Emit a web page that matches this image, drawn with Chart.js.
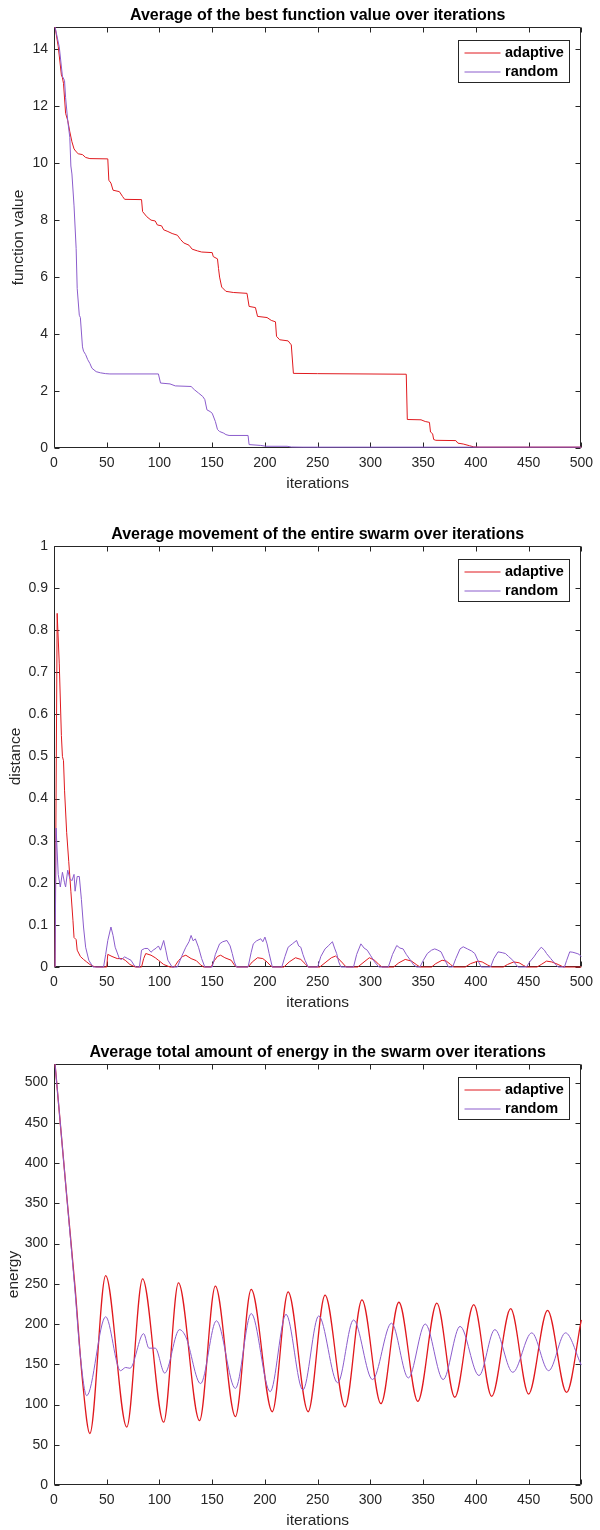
<!DOCTYPE html>
<html>
<head>
<meta charset="utf-8">
<script src="https://cdn.jsdelivr.net/npm/chart.js@4.4.1/dist/chart.umd.min.js"></script>
<style>
  html, body { margin: 0; padding: 0; background: #fff; }
  #wrap { position: relative; width: 600px; height: 1530px; }
  canvas { position: absolute; left: 0; }
</style>
</head>
<body>
<div id="wrap">
  <canvas id="fvChart" width="600" height="500" style="top:0;width:600px;height:500px"></canvas>
  <canvas id="distChart" width="600" height="520" style="top:500px;width:600px;height:520px"></canvas>
  <canvas id="energyChart" width="600" height="510" style="top:1020px;width:600px;height:510px"></canvas>
</div>
<script>
// tick labels
const iterTicks = [0, 50, 100, 150, 200, 250, 300, 350, 400, 450, 500];
const fvTicks = [0, 2, 4, 6, 8, 10, 12, 14];
const distTicks = [0, 0.1, 0.2, 0.3, 0.4, 0.5, 0.6, 0.7, 0.8, 0.9, 1];
const energyTicks = [0, 50, 100, 150, 200, 250, 300, 350, 400, 450, 500];

// best function value
const fvIterAdaptive = [1,4,7,8,9,11,13,15,17,19,21,23,27,30,34,51,52,54,56,62,65,67,83,84,88,92,96,98,102,104,108,112,117,120,123,128,131,136,140,150,151,155,156,157,159,163,170,183,185,191,193,202,206,210,211,214,222,225,227,250,334,335,348,352,356,357,359,360,362,381,383,388,394,398,403,500];
const fvAdaptive = [14.78,14.1,13.1,13.0,12.8,11.75,11.5,11.1,10.75,10.5,10.4,10.33,10.3,10.2,10.16,10.15,9.4,9.3,9.05,9.0,8.83,8.73,8.72,8.3,8.12,8.0,7.97,7.83,7.8,7.66,7.6,7.53,7.47,7.32,7.2,7.12,6.98,6.92,6.88,6.86,6.72,6.64,6.3,6.0,5.65,5.5,5.46,5.43,4.97,4.93,4.62,4.58,4.48,4.43,3.92,3.8,3.76,3.62,2.62,2.61,2.59,1.0,0.99,0.93,0.9,0.56,0.5,0.3,0.27,0.26,0.17,0.14,0.08,0.04,0.03,0.03];
const fvIterRandom = [1,5,8,10,11,13,15,16,17,19,21,22,24,25,27,28,30,32,34,36,40,44,49,53,99,101,110,115,130,133,137,141,143,145,148,150,153,155,157,161,163,166,184,185,196,201,221,225,236,500];
const fvRandom = [14.78,14.08,13.05,12.9,12.3,11.5,10.9,9.9,9.62,8.5,7.0,5.6,4.66,4.58,3.55,3.4,3.28,3.1,2.97,2.8,2.68,2.64,2.61,2.6,2.6,2.28,2.25,2.18,2.16,2.05,1.93,1.81,1.7,1.34,1.28,1.22,0.93,0.65,0.58,0.52,0.47,0.44,0.44,0.12,0.09,0.06,0.06,0.035,0.03,0.03];

// average movement
const distIterAdaptive = [1,3,5,7,8,9,10,12,14,16,18,19,21,22,25,28,31,34,37,40,50,51,55,60,65,68,72,77,83,85,87,92,96,99,104,110,114,118,122,125,130,135,139,142,149,152,155,158,162,168,171,173,184,188,193,198,202,205,207,218,223,229,234,238,241,252,257,263,267,272,277,288,293,299,304,308,311,322,327,333,339,344,347,358,362,368,372,376,379,390,395,402,406,411,415,426,430,436,441,445,448,458,462,467,472,478,483,500];
const distAdaptive = [0,0.84,0.72,0.55,0.5,0.49,0.42,0.32,0.25,0.18,0.11,0.07,0.065,0.04,0.025,0.018,0.012,0.006,0.002,0,0,0.03,0.025,0.02,0.02,0.015,0.006,0,0,0.02,0.032,0.028,0.022,0.016,0.006,0,0,0.015,0.025,0.028,0.02,0.015,0.005,0,0,0.015,0.025,0.028,0.022,0.016,0.005,0,0,0.012,0.022,0.02,0.012,0.004,0,0,0.012,0.022,0.018,0.008,0,0,0.01,0.022,0.026,0.014,0,0,0.01,0.022,0.016,0.006,0,0,0.01,0.018,0.014,0.005,0,0,0.008,0.016,0.014,0.006,0,0,0.008,0.014,0.012,0.005,0,0,0.006,0.012,0.01,0.004,0,0,0.006,0.014,0.012,0.006,0,0];
const distIterRandom = [1,2,4,6,8,10,11,13,15,17,19,20,22,24,26,28,30,33,37,47,49,51,54,56,58,62,64,67,70,73,76,78,81,83,86,89,92,94,97,99,101,104,106,108,112,117,121,125,128,130,132,134,137,140,143,150,153,157,160,164,167,169,171,173,184,187,189,192,196,198,200,202,204,207,216,219,222,226,230,232,234,236,238,241,250,253,257,260,264,266,268,270,272,284,287,291,294,297,300,304,308,317,321,325,328,331,334,338,341,344,347,350,354,358,361,364,367,370,374,378,381,385,388,392,396,399,402,405,414,417,421,425,428,431,435,438,440,448,451,455,458,462,465,467,471,475,478,484,486,489,492,496,498,500];
const distRandom = [0,0.33,0.22,0.19,0.225,0.2,0.19,0.23,0.21,0.205,0.22,0.18,0.215,0.215,0.16,0.095,0.047,0.016,0,0,0.03,0.063,0.095,0.075,0.047,0.02,0.018,0.024,0.02,0.016,0.004,0,0,0.04,0.044,0.044,0.035,0.04,0.045,0.05,0.04,0.063,0.04,0.016,0,0,0.025,0.047,0.06,0.075,0.062,0.067,0.047,0.02,0,0,0.03,0.055,0.06,0.063,0.05,0.032,0.012,0,0,0.035,0.055,0.062,0.067,0.06,0.071,0.055,0.032,0,0,0.025,0.047,0.055,0.063,0.05,0.047,0.03,0.016,0,0,0.025,0.043,0.05,0.06,0.045,0.032,0.012,0,0,0.03,0.055,0.045,0.04,0.028,0.012,0,0,0.03,0.051,0.045,0.043,0.03,0.016,0.005,0,0,0.015,0.032,0.04,0.043,0.04,0.036,0.02,0,0,0.02,0.043,0.048,0.043,0.038,0.032,0.015,0,0,0.02,0.036,0.034,0.032,0.025,0.016,0.006,0,0,0.012,0.024,0.035,0.047,0.04,0.032,0.02,0.008,0,0,0.015,0.036,0.035,0.032,0.03,0.024];

// total energy (peaks and troughs)
const energyIterAdaptive = [1,12,20,27,34,49,69,84,104,118,138,153,172,187,207,222,241,257,276,292,310,327,345,363,380,398,415,433,450,468,486,500];
const energyAdaptive = [523,360,245,130,64,260,72,256,78,251,80,247,85,243,91,240,91,236,97,230,101,227,104,226,109,224,110,219,113,217,115,205];
const energyIterRandom = [1,12,20,25,31,49,63,68,72,85,90,96,105,119,125,139,154,172,187,205,220,236,251,269,284,302,320,336,352,369,385,403,418,435,453,469,485,500];
const energyRandom = [523,360,240,160,111,209,142,146,145,188,170,170,139,193,184,126,204,120,213,116,212,118,210,127,205,131,201,133,200,131,197,136,193,140,189,142,189,149];

const FONT = "'Liberation Sans', Arial, Helvetica, sans-serif";
const AXIS = '#262626';
const RED = '#e0191e';
const PURPLE = '#8b5ccc';

function pts(xs, ys) {
  return xs.map((x, i) => ({ x: x, y: ys[i] }));
}

// box round the plot with ticks pointing inward
const boxAxes = {
  id: 'boxAxes',
  beforeDatasetsDraw(chart) {
    const { ctx, chartArea: a, scales: { x, y } } = chart;
    const L = Math.round(a.left) + 0.5, R = Math.round(a.right) - 0.5;
    const T = Math.round(a.top) + 0.5, B = Math.round(a.bottom) - 0.5;
    ctx.save();
    ctx.strokeStyle = AXIS;
    ctx.lineWidth = 1;
    ctx.beginPath();
    ctx.rect(L, T, R - L, B - T);
    x.ticks.forEach(t => {
      const px = Math.round(x.getPixelForValue(t.value)) + 0.5;
      ctx.moveTo(px, B); ctx.lineTo(px, B - 5);
      ctx.moveTo(px, T); ctx.lineTo(px, T + 5);
    });
    y.ticks.forEach(t => {
      const py = Math.round(y.getPixelForValue(t.value)) + 0.5;
      ctx.moveTo(L, py); ctx.lineTo(L + 5, py);
      ctx.moveTo(R, py); ctx.lineTo(R - 5, py);
    });
    ctx.stroke();
    ctx.restore();
  }
};

// boxed legend in the top right corner
const boxLegend = {
  id: 'boxLegend',
  afterDatasetsDraw(chart) {
    const { ctx, chartArea: a } = chart;
    const w = 111, h = 42;
    const left = Math.round(a.right - 12.5 - w) + 0.5;
    const top = Math.round(a.top + 12.5) + 0.5;
    ctx.save();
    ctx.fillStyle = '#fff';
    ctx.fillRect(left, top, w, h);
    ctx.strokeStyle = AXIS;
    ctx.lineWidth = 1;
    ctx.strokeRect(left, top, w, h);
    ctx.font = 'bold 14.5px ' + FONT;
    ctx.textBaseline = 'middle';
    chart.data.datasets.forEach((ds, i) => {
      const yy = top + 12.5 + i * 19;
      ctx.strokeStyle = ds.borderColor;
      ctx.lineWidth = 1;
      ctx.beginPath();
      ctx.moveTo(left + 6, yy);
      ctx.lineTo(left + 42, yy);
      ctx.stroke();
      ctx.fillStyle = '#000';
      ctx.fillText(ds.label, left + 46.5, yy);
    });
    ctx.restore();
  }
};

function makeChart(id, opt) {
  const canvas = document.getElementById(id);
  const H = canvas.height;
  return new Chart(canvas, {
    type: 'line',
    data: { datasets: opt.datasets },
    options: {
      responsive: false,
      animation: false,
      devicePixelRatio: 1,
      layout: { padding: { top: opt.plotTop - 21.1, bottom: H - opt.plotBottom - 44.8, left: 0, right: 12 } },
      plugins: {
        legend: { display: false },
        tooltip: { enabled: false },
        title: {
          display: true,
          fullSize: false,
          text: opt.title,
          color: '#000',
          font: { family: FONT, size: 16, weight: 'bold', lineHeight: 1.2 },
          padding: { top: 0, bottom: 1.9 }
        }
      },
      scales: {
        x: {
          type: 'linear',
          min: 0,
          max: 500,
          grid: { display: false, drawTicks: false },
          border: { display: false },
          afterBuildTicks: s => { s.ticks = iterTicks.map(v => ({ value: v })); },
          afterFit: s => { s.height = 44.8; },
          ticks: { color: AXIS, font: { family: FONT, size: 14 }, padding: 7, maxRotation: 0, autoSkip: false, callback: v => String(v) },
          title: { display: true, text: 'iterations', color: AXIS, font: { family: FONT, size: 15.5, lineHeight: 1.2 }, padding: 0 }
        },
        y: {
          type: 'linear',
          min: 0,
          max: opt.yMax,
          grid: { display: false, drawTicks: false },
          border: { display: false },
          afterBuildTicks: s => { s.ticks = opt.yTicks.map(v => ({ value: v })); },
          afterFit: s => { s.width = 54; },
          ticks: { color: AXIS, font: { family: FONT, size: 14 }, padding: 6, autoSkip: false, callback: v => String(v) },
          title: { display: true, text: opt.yLabel, color: AXIS, font: { family: FONT, size: 15.5, lineHeight: 1.2 }, padding: { top: opt.yTitleX - 9.3, bottom: 0 } }
        }
      }
    },
    plugins: [boxAxes, boxLegend]
  });
}

function line(label, data, color, extra) {
  return Object.assign({
    label: label,
    data: data,
    borderColor: color,
    backgroundColor: color,
    borderWidth: 1,
    pointRadius: 0,
    tension: 0,
    fill: false,
    clip: 2
  }, extra || {});
}

makeChart('fvChart', {
  title: 'Average of the best function value over iterations',
  yLabel: 'function value',
  yMax: 14.78,
  yTicks: fvTicks,
  plotTop: 27,
  plotBottom: 448,
  yTitleX: 19.2,
  datasets: [
    line('adaptive', pts(fvIterAdaptive, fvAdaptive), RED, { order: 1 }),
    line('random', pts(fvIterRandom, fvRandom), PURPLE, { order: 0 })
  ]
});

makeChart('distChart', {
  title: 'Average movement of the entire swarm over iterations',
  yLabel: 'distance',
  yMax: 1,
  yTicks: distTicks,
  plotTop: 46,
  plotBottom: 467,
  yTitleX: 15.5,
  datasets: [
    line('adaptive', pts(distIterAdaptive, distAdaptive), RED, { order: 1 }),
    line('random', pts(distIterRandom, distRandom), PURPLE, { order: 0 })
  ]
});

makeChart('energyChart', {
  title: 'Average total amount of energy in the swarm over iterations',
  yLabel: 'energy',
  yMax: 523,
  yTicks: energyTicks,
  plotTop: 44,
  plotBottom: 465,
  yTitleX: 13.3,
  datasets: [
    line('adaptive', pts(energyIterAdaptive, energyAdaptive), RED, { order: 1, borderWidth: 1.3, cubicInterpolationMode: 'monotone' }),
    line('random', pts(energyIterRandom, energyRandom), PURPLE, { order: 0, cubicInterpolationMode: 'monotone' })
  ]
});
</script>
</body>
</html>
